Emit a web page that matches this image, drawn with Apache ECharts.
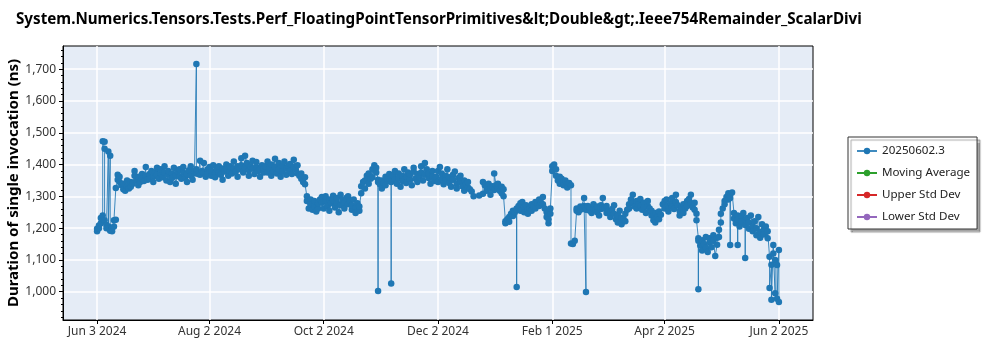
<!DOCTYPE html>
<html>
<head>
<meta charset="utf-8">
<script src="https://cdn.jsdelivr.net/npm/echarts@6/dist/echarts.min.js"></script>
<style>
  html, body { margin: 0; padding: 0; background: #fff; }
  #chart { width: 1000px; height: 350px; }
</style>
</head>
<body>
<div id="chart"></div>
<script>
// Benchmark duration (ns) per calendar day; an array holds several runs on the same day,
// null means no run that day.
const jun2024 = [ // from Jun 3
  [1190,1198],[1208,1200],[1215,1232],[1240,1473],[1472,1450,1225],[1210,1200],[1205,1441,1200],
  [1195,1428,1192],[1200,1190],[1205,1225],[1226,1326],[1352,1368],[1345,1362],1335,
  [1322,1340],1318,[1332,1350],1325,[1345,1330],1340,[1365,1380],1350,[1335,1362],1345,
  [1370,1355],1348,[1392,1365],1352
];
const jul2024 = [
  [1370,1355],1380,[1362,1345],1375,[1390,1368],1355,[1372,1385],1360,[1395,1375],1350,
  [1368,1380],1345,[1372,1358],1390,[1365,1340],1378,[1385,1362],1355,[1375,1392],1360,
  [1345,1370],1382,[1365,1395],1352,[1372,1380],[1375,1716,1385],1370,[1412,1368],1380,
  [1405,1375],1362
];
const aug2024 = [
  [1385,1370],1392,[1365,1380],1398,[1372,1360],1385,[1375,1395],1368,[1388,1352],1378,
  [1400,1385],1365,[1380,1395],1372,[1410,1388],1378,[1362,1395],1385,[1420,1398],1375,
  [1390,1428],1405,[1382,1365],1395,[1412,1388],1370,[1392,1408],1380,[1362,1385],1398,
  [1375,1388]
];
const sep2024 = [
  1395,[1375,1410],1388,[1365,1400],1380,[1418,1392],1372,[1385,1405],1362,[1395,1378],
  1410,[1388,1368],1395,[1402,1380],1370,[1392,1415],1385,[1372,1398],1365,[1355,1372],
  1345,[1360,1338],[1300,1285],1262,[1290,1275],1258,[1268,1285],1252,[1262,1278],1290
];
const oct2024 = [
  [1298,1280],1262,[1285,1300],1270,[1290,1255],1278,[1302,1288],1265,[1280,1295],1250,
  [1272,1305],1288,[1262,1280],1295,[1275,1300],1285,[1258,1272],1290,[1265,1248],1278,
  [1255,1268],[1310,1332],1345,[1325,1350],1365,[1340,1372],1355,[1385,1360],1398,
  [1375,1390],[1352,1002,1345]
];
const nov2024 = [
  1338,[1325,1350],1342,[1362,1335],1355,[1370,1348],[1360,1026,1345],1365,[1380,1352],1340,
  [1372,1358],1330,[1348,1365],1385,[1360,1342],1375,[1352,1368],1335,[1378,1390],1355,
  [1345,1370],1362,[1395,1375],1350,[1405,1368],1385,[1358,1372],1340,[1380,1362],1348
];
const dec2024 = [
  1362,[1345,1380],1392,[1355,1372],1338,[1365,1350],1385,[1342,1360],1330,[1368,1352],
  1378,[1340,1325],1358,[1345,1365],1332,[1350,1318],1340,[1328,1345],1322,1315,
  1300,null,null,1303,null,[1308,1345],1335,[1318,1330],1340,[1325,1305],1332
];
const jan2025 = [
  [1320,1372],1335,[1325,1340],1318,[1330,1310],[1322,1300],[1222,1215],1228,[1235,1220],1245,
  [1238,1255],1250,[1262,1015,1258],1270,[1255,1278],1282,[1265,1250],1272,[1258,1245],1262,
  [1275,1255],1268,[1282,1262],1275,[1290,1270],1280,[1298,1275],1262,[1250,1235],[1215,1228],
  [1245,1262]
];
const feb2025 = [
  [1380,1395],1400,[1385,1365],1350,[1362,1340],1355,[1345,1335],1350,[1338,1328],1342,
  [1335,1152],1150,1160,[1255,1262],1250,[1268,1258],1262,[1295,1270],[1265,999,1258],1270,
  [1255,1265],1248,[1262,1275],1258,[1250,1268],1240,[1272,1260],[1295,1265]
];
const mar2025 = [
  1262,[1248,1270],1255,[1235,1250],1260,[1272,1245],1228,[1218,1240],1255,[1232,1212],
  1228,[1245,1222],1258,[1275,1262],1290,[1305,1280],1268,[1285,1262],1275,[1292,1270],
  1258,[1280,1265],1248,[1270,1285],1262,[1240,1255],1225,[1248,1218],1235,[1252,1228],
  1242
];
const apr2025 = [
  1275,[1262,1285],1290,[1270,1252],1278,[1295,1268],1260,[1282,1305],1272,[1255,1240],
  1265,[1248,1275],1262,[1285,1270],1292,[1305,1278],1265,[1280,1258],[1245,1225],[1168,1008,1160],
  1145,[1162,1130],1150,[1172,1138],1125,[1155,1168],1140,[1178,1160],1112,[1148,1170]
];
const may2025 = [
  [1195,1172],[1218,1245],1262,[1285,1275],1298,[1310,1290],[1305,1147,1295],1312,[1248,1230],1215,
  [1240,1147,1228],1205,[1238,1220],1248,[1210,1106,1225],1232,[1198,1218],1240,[1205,1190],1222,
  [1178,1200],1235,[1188,1170],1212,[1195,1180],1205,[1168,1190],[1110,1012],[1085,975],[1147,1120],
  [995,1100]
];
const jun2025 = [
  [1084,978],[1131,968]
];

// [year, month (0-based), first day, values]
const monthBlocks = [
  [2024, 5, 3, jun2024], [2024, 6, 1, jul2024], [2024, 7, 1, aug2024], [2024, 8, 1, sep2024],
  [2024, 9, 1, oct2024], [2024, 10, 1, nov2024], [2024, 11, 1, dec2024], [2025, 0, 1, jan2025],
  [2025, 1, 1, feb2025], [2025, 2, 1, mar2025], [2025, 3, 1, apr2025], [2025, 4, 1, may2025],
  [2025, 5, 1, jun2025]
];

const xTickDates = ['2024-06-03', '2024-08-02', '2024-10-02', '2024-12-02', '2025-02-01', '2025-04-02', '2025-06-02'];
const yTickValues = [1000, 1100, 1200, 1300, 1400, 1500, 1600, 1700];
const legendNames = ['20250602.3', 'Moving Average', 'Upper Std Dev', 'Lower Std Dev'];
const seriesColors = ['#1f77b4', '#2ca02c', '#d62728', '#9467bd'];
const titleText = 'System.Numerics.Tensors.Tests.Perf_FloatingPointTensorPrimitives&lt;Double&gt;.Ieee754Remainder_ScalarDivi';
const monthNames = ['Jan','Feb','Mar','Apr','May','Jun','Jul','Aug','Sep','Oct','Nov','Dec'];

function localDate(iso) {
  const p = iso.split('-').map(Number);
  return new Date(p[0], p[1] - 1, p[2]).getTime();
}

const runs = [];
monthBlocks.forEach(([y, m, d0, vals]) => {
  vals.forEach((entry, i) => {
    if (entry == null) return;
    const t = new Date(y, m, d0 + i).getTime();
    (Array.isArray(entry) ? entry : [entry]).forEach(v => runs.push([t, v]));
  });
});

const tFirst = runs[0][0], tLast = runs[runs.length - 1][0];
const pad = (tLast - tFirst) * 0.05;
const xTicks = xTickDates.map(localDate);

// Minor y ticks every 20 ns across the visible range
const yMin = 911, yMax = 1773;
const yMinor = [];
for (let v = 920; v <= 1760; v += 20) yMinor.push(v);

const FONT = '"Noto Sans", "Open Sans", sans-serif';

const chart = echarts.init(document.getElementById('chart'), null, { renderer: 'canvas' });
chart.setOption({
  animation: false,
  backgroundColor: '#ffffff',
  title: {
    text: titleText,
    left: 11, top: 7,
    textStyle: { fontFamily: FONT, fontWeight: 'bold', fontSize: 15.2, color: '#000' }
  },
  grid: {
    left: 63, right: 187, top: 46, bottom: 30,
    containLabel: false, outerBoundsMode: 'none',
    show: true, backgroundColor: '#E5ECF6', borderColor: '#000', borderWidth: 1
  },
  legend: {
    orient: 'vertical',
    left: 848, top: 137,
    padding: [8, 7, 6, 8],
    itemWidth: 20, itemHeight: 8, itemGap: 10,
    backgroundColor: '#fff',
    borderColor: '#333', borderWidth: 1,
    shadowColor: 'rgba(0,0,0,0.35)', shadowBlur: 1, shadowOffsetX: 3, shadowOffsetY: 3,
    textStyle: { fontFamily: FONT, fontSize: 11.6, color: '#222' },
    data: legendNames
  },
  xAxis: {
    type: 'value',
    min: tFirst - pad, max: tLast + pad,
    axisLine: { lineStyle: { color: '#000' } },
    axisTick: { show: true, length: 4, customValues: xTicks, lineStyle: { color: '#000' } },
    axisLabel: {
      customValues: xTicks,
      margin: 6,
      fontFamily: FONT, fontSize: 12, color: '#333',
      formatter: v => { const d = new Date(v); return monthNames[d.getMonth()] + ' ' + d.getDate() + ' ' + d.getFullYear(); }
    },
    splitLine: { show: true, lineStyle: { color: '#fff', width: 1.5 } }
  },
  yAxis: [{
    type: 'value',
    min: yMin, max: yMax,
    name: 'Duration of single invocation (ns)',
    nameLocation: 'middle', nameGap: 42, nameMoveOverlap: false,
    nameTextStyle: { fontFamily: FONT, fontWeight: 'bold', fontSize: 15, color: '#000' },
    axisLine: { show: true, lineStyle: { color: '#000' } },
    axisTick: { show: true, length: 4, customValues: yTickValues, lineStyle: { color: '#000' } },
    axisLabel: {
      customValues: yTickValues, margin: 7,
      fontFamily: FONT, fontSize: 12, color: '#333',
      formatter: v => v.toLocaleString('en-US')
    },
    splitLine: { show: true, lineStyle: { color: '#fff', width: 1.5 } }
  }, {
    type: 'value',
    min: yMin, max: yMax,
    position: 'left',
    axisLine: { show: false },
    axisTick: { show: true, length: 2, customValues: yMinor, lineStyle: { color: '#000' } },
    axisLabel: { show: false },
    splitLine: { show: false }
  }],
  series: [{
    name: legendNames[0],
    type: 'line',
    data: runs,
    color: seriesColors[0],
    symbol: 'circle', symbolSize: 6.5, showAllSymbol: true,
    lineStyle: { width: 1, color: seriesColors[0], opacity: 0.85 },
    itemStyle: { color: seriesColors[0] }
  }].concat(legendNames.slice(1).map((n, i) => ({
    name: n, type: 'line', data: [], color: seriesColors[i + 1],
    symbol: 'circle', symbolSize: 6,
    lineStyle: { width: 1, color: seriesColors[i + 1] },
    itemStyle: { color: seriesColors[i + 1] }
  })))
});
</script>
</body>
</html>
